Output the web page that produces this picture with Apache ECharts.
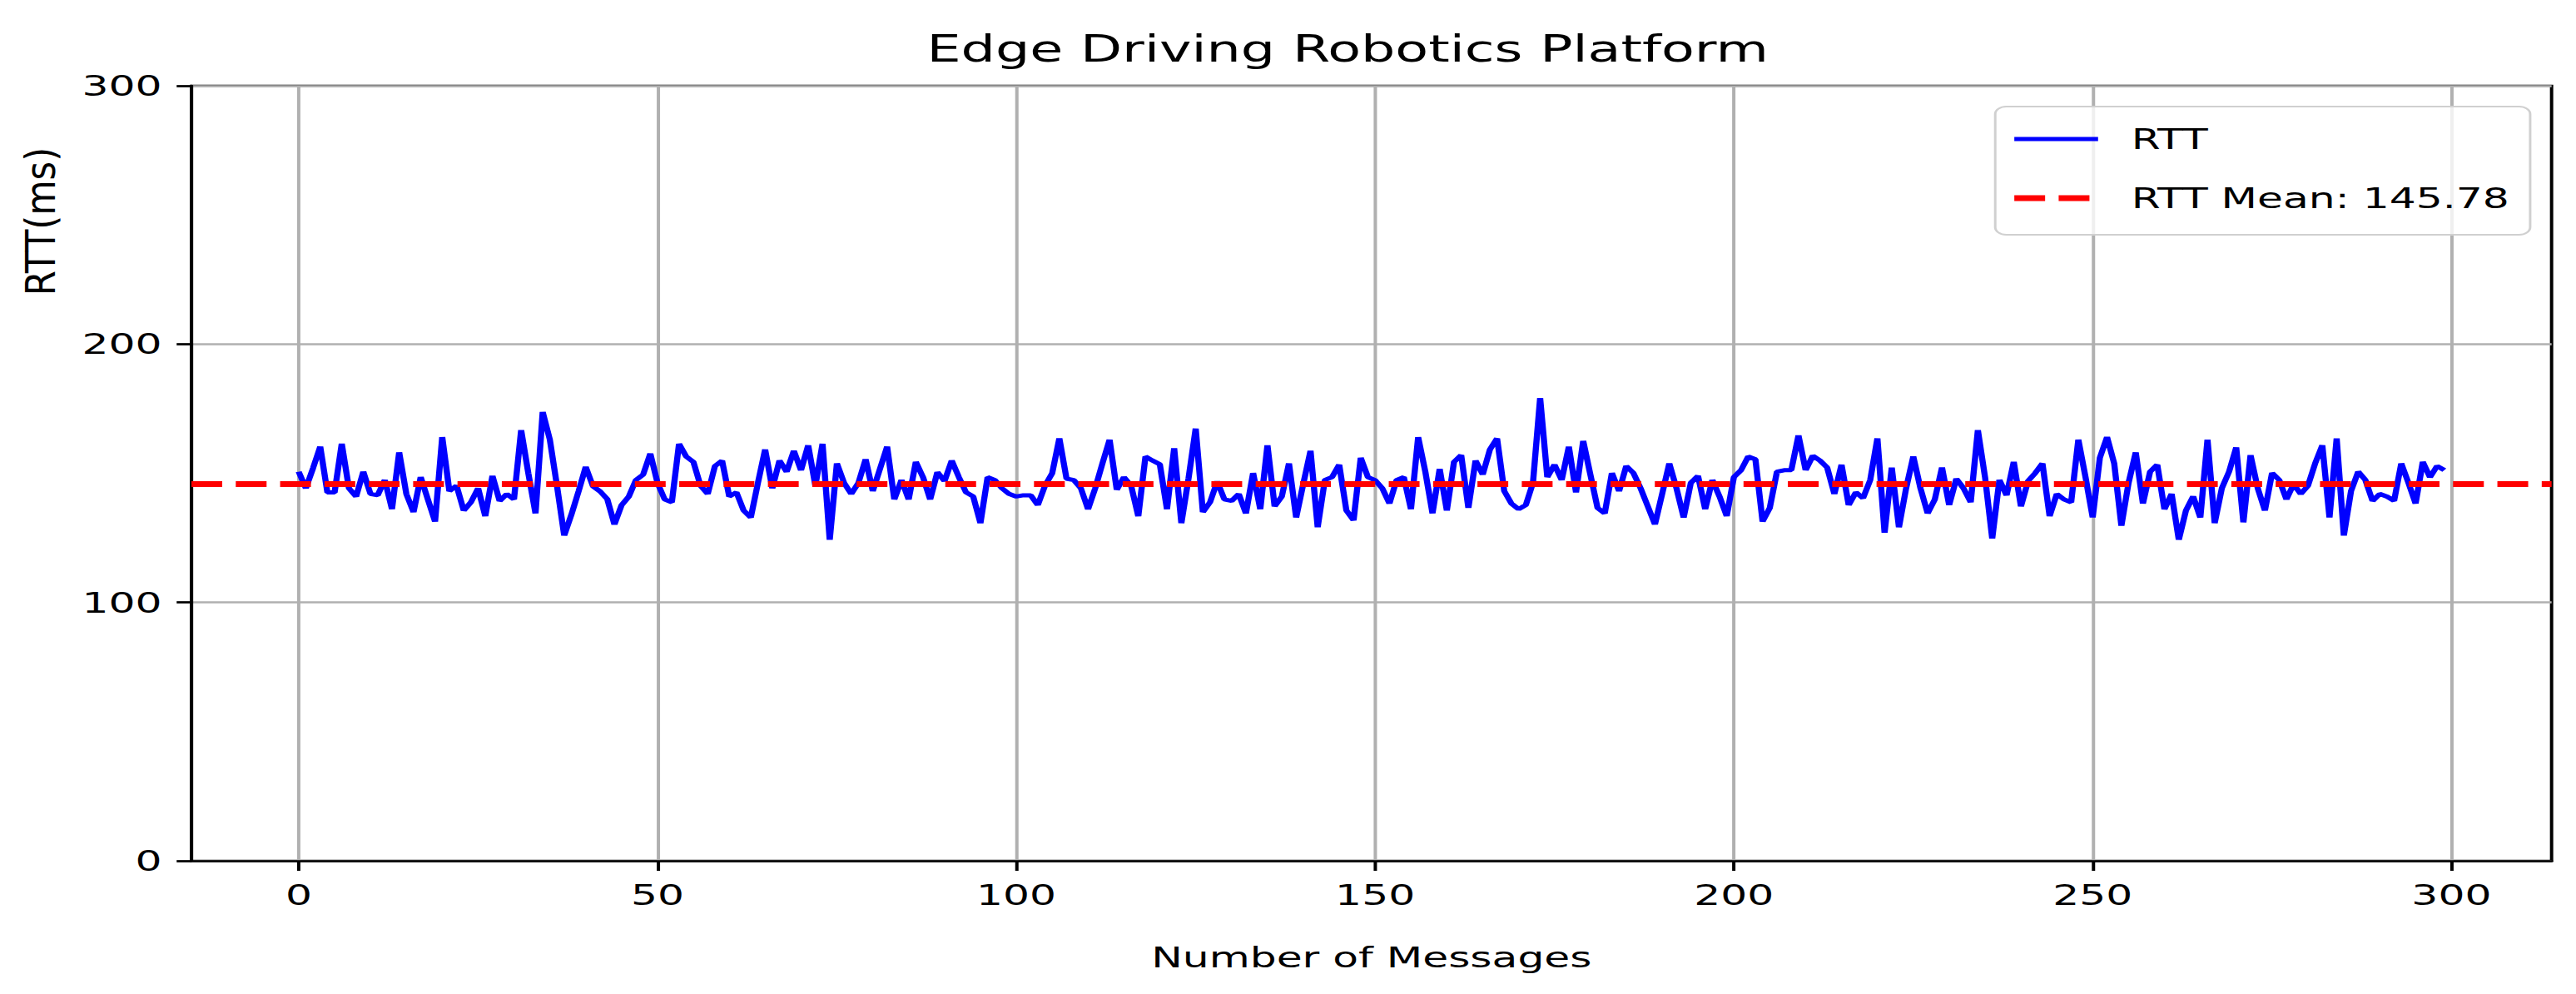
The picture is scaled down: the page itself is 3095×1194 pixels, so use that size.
<!DOCTYPE html>
<html>
<head>
<meta charset="utf-8">
<title>Edge Driving Robotics Platform</title>
<script src="https://cdn.jsdelivr.net/npm/echarts@6/dist/echarts.min.js"></script>
<style>
html, body { margin: 0; padding: 0; background: #fff; overflow: hidden; }
/* the source picture is stretched sideways, so draw it narrow and widen it */
#chart { width: 2091px; height: 1194px; transform: scaleX(1.48); transform-origin: 0 0; }
</style>
</head>
<body>
<div id="chart"></div>
<script>
// RTT per message (ms)
var rttValues = [
    150.6, 144.2, 152.0, 160.3, 142.6, 142.6, 161.4, 144.2, 141.0, 150.6,
    142.0, 141.5, 147.4, 136.1, 158.1, 142.0, 135.0, 148.5, 139.9, 131.3,
    164.0, 143.1, 145.2, 135.6, 138.8, 144.2, 133.4, 149.0, 139.3, 142.0,
    139.9, 166.7, 150.0, 134.5, 173.7, 163.0, 145.0, 125.9, 134.0, 143.0,
    152.5, 145.0, 143.0, 140.0, 130.2, 137.7, 141.0, 147.4, 149.5, 157.6,
    146.3, 139.9, 138.8, 161.4, 156.5, 154.4, 145.2, 142.0, 152.8, 154.9,
    141.0, 142.6, 135.6, 132.9, 146.3, 159.2, 144.2, 154.9, 150.6, 158.7,
    151.2, 160.8, 145.2, 161.4, 124.3, 153.8, 146.3, 142.0, 146.3, 155.4,
    143.1, 151.7, 160.3, 139.9, 147.4, 139.9, 154.4, 148.5, 139.9, 150.4,
    147.0, 154.9, 148.5, 142.6, 141.0, 130.7, 148.5, 147.4, 144.2, 142.0,
    141.0, 141.5, 141.5, 137.7, 145.2, 150.0, 163.5, 147.9, 147.4, 144.2,
    136.1, 144.2, 153.8, 163.0, 143.6, 148.5, 145.2, 133.4, 156.5, 154.9,
    153.5, 136.1, 159.7, 130.7, 148.0, 167.3, 135.0, 138.8, 146.8, 139.9,
    139.3, 142.0, 134.5, 150.1, 136.1, 160.8, 137.2, 141.0, 153.8, 132.9,
    146.0, 158.7, 129.1, 147.4, 148.5, 153.3, 135.6, 131.8, 156.0, 148.5,
    147.3, 144.2, 138.3, 147.4, 148.5, 136.1, 164.0, 150.6, 134.5, 151.7,
    135.6, 154.4, 157.0, 136.6, 154.9, 149.5, 159.2, 163.5, 143.1, 138.3,
    136.1, 137.7, 146.3, 179.1, 148.5, 153.3, 147.4, 160.3, 142.6, 162.5,
    149.5, 136.6, 134.5, 150.1, 143.1, 152.8, 150.1, 144.2, 137.2, 130.2,
    142.0, 153.8, 144.2, 132.9, 146.3, 149.0, 136.1, 147.4, 141.0, 133.4,
    148.5, 151.2, 156.5, 155.4, 131.3, 136.6, 150.6, 151.2, 151.2, 164.6,
    151.2, 156.8, 154.9, 152.2, 142.0, 153.3, 137.7, 142.6, 140.4, 147.4,
    163.5, 127.0, 152.2, 129.1, 144.2, 156.5, 144.2, 134.5, 139.9, 152.2,
    137.7, 147.9, 144.2, 138.8, 166.7, 148.5, 124.8, 147.4, 141.5, 154.4,
    137.2, 147.0, 150.1, 153.8, 133.4, 142.0, 139.9, 138.8, 163.0, 148.5,
    132.9, 156.0, 164.0, 153.8, 129.7, 146.3, 158.1, 138.3, 150.6, 153.3,
    136.1, 142.0, 124.3, 135.6, 141.0, 132.9, 163.0, 130.7, 144.2, 150.6,
    160.0, 131.0, 157.0, 144.2, 135.6, 150.1, 147.4, 139.9, 145.8, 142.0,
    145.2, 153.8, 160.8, 132.9, 163.5, 125.9, 143.1, 150.6, 147.4, 139.3,
    142.0, 141.0, 139.3, 153.8, 146.3, 138.3, 154.4, 148.5, 152.8, 151.2
];
var rttMean = 145.78;
var xTicks = [0, 50, 100, 150, 200, 250, 300];
var yTicks = [0, 100, 200, 300];

var font = "DejaVu Sans";
var meanName = "RTT Mean: " + rttMean.toFixed(2);
var chart = echarts.init(document.getElementById("chart"), null, { renderer: "svg" });

var option = {
    animation: false,
    backgroundColor: "#fff",
    textStyle: { fontFamily: font, color: "#000" },
    title: {
        text: "Edge Driving Robotics Platform",
        left: 1094,
        top: 37,
        textAlign: "center",
        padding: 0,
        textStyle: { fontFamily: font, fontSize: 44, fontWeight: "normal", color: "#000" }
    },
    legend: {
        right: 37,
        top: 128,
        orient: "vertical",
        align: "left",
        padding: [19, 17, 24, 12],
        itemWidth: 68,
        itemHeight: 14,
        itemGap: 31,
        backgroundColor: "rgba(255,255,255,0.8)",
        borderColor: "#d0d0d0",
        borderWidth: 2,
        borderRadius: 9,
        itemStyle: { opacity: 0 },
        textStyle: { fontFamily: font, fontSize: 34, lineHeight: 40, color: "#000", padding: [0, 0, 0, 22] },
        data: [
            { name: "RTT", lineStyle: { color: "#0000ff", width: 5 } },
            { name: meanName, lineStyle: { color: "#ff0000", width: 7, type: [25, 11] } }
        ]
    },
    grid: {
        left: 155.4,
        right: 19.6,
        top: 103,
        bottom: 160,
        show: true,
        borderColor: "#000",
        borderWidth: 2.7
    },
    graphic: [
        {
            // y label sits high and is drawn taller than the other texts
            type: "text",
            x: 33,
            y: 266,
            rotation: Math.PI / 2,
            scaleX: 1.28,
            style: {
                text: "RTT(ms)",
                fontFamily: font,
                fontSize: 34,
                fill: "#000",
                align: "center",
                verticalAlign: "middle"
            }
        }
    ],
    xAxis: {
        type: "value",
        min: -14.95,
        max: 313.95,
        name: "Number of Messages",
        nameLocation: "middle",
        nameGap: 99,
        nameTextStyle: { fontFamily: font, fontSize: 34, color: "#000" },
        axisLine: { show: true, onZero: false, lineStyle: { color: "#000", width: 2.7 } },
        axisTick: { show: true, length: 12, lineStyle: { color: "#000", width: 2.7 }, customValues: xTicks },
        axisLabel: { fontFamily: font, fontSize: 34, color: "#000", margin: 24, customValues: xTicks },
        splitLine: { show: true, lineStyle: { color: "#b0b0b0", width: 2.7 } }
    },
    yAxis: {
        type: "value",
        min: 0,
        max: 300,
        interval: 100,
        axisLine: { show: true, onZero: false, lineStyle: { color: "#000", width: 2.7 } },
        axisTick: { show: true, length: 12, lineStyle: { color: "#000", width: 2.7 } },
        axisLabel: { fontFamily: font, fontSize: 34, color: "#000", margin: 24, customValues: yTicks },
        splitLine: { show: true, lineStyle: { color: "#b0b0b0", width: 2.7 } }
    },
    series: [
        {
            name: "RTT",
            type: "line",
            symbol: "none",
            lineStyle: { color: "#0000ff", width: 5 },
            itemStyle: { color: "#0000ff" },
            data: rttValues.map(function (v, i) { return [i, v]; }),
            z: 3
        },
        {
            name: meanName,
            type: "line",
            symbol: "none",
            lineStyle: { color: "#ff0000", width: 7, type: [25, 11] },
            itemStyle: { color: "#ff0000" },
            data: [],
            markLine: {
                silent: true,
                symbol: "none",
                label: { show: false },
                lineStyle: { color: "#ff0000", width: 7, type: [25, 11] },
                data: [{ yAxis: rttMean }]
            },
            z: 4
        }
    ]
};

chart.setOption(option);
</script>
</body>
</html>
